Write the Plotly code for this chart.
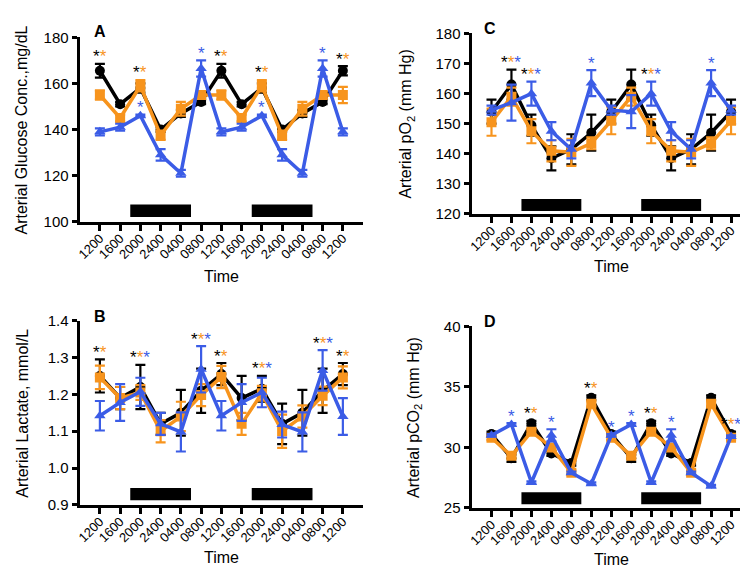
import plotly.graph_objects as go

W, H = 748, 568

time_labels = ["1200", "1600", "2000", "2400", "0400", "0800", "1200",
               "1600", "2000", "2400", "0400", "0800", "1200"]
idx = list(range(len(time_labels)))

# Panel A: glucose (mg/dL)
glu_black = [165.5, 151, 158, 140, 147, 152, 165.5, 151, 158, 140, 147, 152, 165.5]
glu_black_err = [3, 1, 2, 1, 1.5, 1, 3, 1, 2, 1, 1.5, 1, 2]
glu_orange = [155, 145, 159, 137.5, 149, 155, 155, 145, 159, 137.5, 149, 155, 155]
glu_orange_err = [2, 1.5, 2.5, 2, 3, 1.5, 2, 1.5, 2.5, 2, 3, 1.5, 3.5]
glu_blue = [139, 141, 146, 129, 121, 166.5, 139, 141, 146, 129, 121, 166.5, 139]
glu_blue_err = [1.5, 1.5, 0.5, 2.5, 1.5, 3.5, 1.5, 1.5, 0.5, 2.5, 1.5, 3.5, 1.5]

# Panel B: lactate (mmol/L)
lac_black = [1.25, 1.19, 1.22, 1.12, 1.15, 1.21, 1.255, 1.19, 1.215, 1.12, 1.15, 1.21, 1.255]
lac_black_err = [0.045, 0.03, 0.06, 0.03, 0.062, 0.06, 0.03, 0.06, 0.035, 0.055, 0.062, 0.06, 0.03]
lac_orange = [1.246, 1.19, 1.205, 1.10, 1.14, 1.198, 1.247, 1.12, 1.203, 1.10, 1.14, 1.196, 1.246]
lac_orange_err = [0.032, 0.03, 0.02, 0.03, 0.04, 0.03, 0.03, 0.03, 0.02, 0.045, 0.03, 0.025, 0.03]
lac_blue = [1.142, 1.178, 1.207, 1.12, 1.098, 1.268, 1.142, 1.178, 1.205, 1.118, 1.098, 1.265, 1.14]
lac_blue_err = [0.04, 0.05, 0.038, 0.03, 0.053, 0.063, 0.04, 0.05, 0.04, 0.035, 0.053, 0.055, 0.05]

# Panel C: pO2 (mm Hg)
po2_black = [154, 163, 149.5, 138.5, 141.5, 147, 154, 163, 149.5, 138.5, 141.5, 147, 154]
po2_black_err = [4, 5, 3.5, 4, 5, 6, 4, 5, 3.5, 4, 5, 6, 4]
po2_orange = [150.5, 159, 147.5, 141, 140.5, 143.5, 151, 159, 147.5, 141, 140.5, 143.5, 151]
po2_orange_err = [4.5, 3, 4, 3.5, 4.5, 2, 4.5, 3, 4, 3.5, 4.5, 2, 4.5]
po2_blue = [154.5, 157, 160, 147.5, 141.5, 163.5, 154.5, 154, 160, 147.5, 141.5, 163.5, 154.5]
po2_blue_err = [1.5, 6, 4, 3, 3, 4.3, 1.5, 5.5, 4, 3, 3, 4.3, 1.5]

# Panel D: pCO2 (mm Hg)
pco2_black = [31.1, 29.1, 32.0, 29.5, 28.7, 34.1, 31.1, 29.1, 32.0, 29.5, 28.7, 34.1, 31.1]
pco2_black_err = [0.2, 0.3, 0.2, 0.2, 0.2, 0.2, 0.2, 0.3, 0.2, 0.2, 0.2, 0.2, 0.2]
pco2_orange = [30.8, 29.3, 31.3, 30.0, 27.9, 33.6, 30.8, 29.3, 31.3, 30.0, 27.9, 33.6, 30.8]
pco2_orange_err = [0.2] * 13
pco2_blue = [31.0, 31.9, 27.1, 31.0, 27.9, 27.0, 31.0, 31.9, 27.1, 31.0, 27.9, 26.8, 30.9]
pco2_blue_err = [0.1, 0.1, 0.1, 0.5, 0.1, 0.1, 0.1, 0.1, 0.1, 0.5, 0.1, 0.1, 0.1]

# significance asterisks: (index, series list)
glu_stars = [(0, "ko"), (2, "ko"), (2, "b"), (5, "b"), (6, "ko"), (8, "ko"), (8, "b"), (11, "b"), (12, "ko")]
lac_stars = [(0, "ko"), (2, "kob"), (5, "kob"), (6, "ko"), (8, "kob"), (11, "kob"), (12, "ko")]
po2_stars = [(1, "kob"), (2, "kob"), (5, "b"), (8, "kob"), (11, "b")]
pco2_stars = [(1, "b"), (2, "ko"), (3, "b"), (5, "ko"), (6, "b"), (7, "b"), (8, "ko"), (9, "b"), (12, "kob")]

BLACK = "#000000"
ORANGE = "#F7941D"
BLUE = "#3B5CE6"
COLORS = {"k": BLACK, "o": ORANGE, "b": BLUE}
FONT = "Arial, Liberation Sans, sans-serif"

def px_x(p):
    return p / W

def px_y(p):
    return 1 - p / H

panels = [
    dict(letter="A", ax="", xdom=(68, 353), ydom=(21, 211), yr=(100, 180), dt=20,
         ytitle="Arterial Glucose Conc.,mg/dL", ytx=10, timey=267, lx=88, ly=15,
         series=[(glu_black, glu_black_err), (glu_orange, glu_orange_err), (glu_blue, glu_blue_err)],
         stars=glu_stars, bar=(102, 107.5), fmt=None),
    dict(letter="C", ax="2", xdom=(462, 743), ydom=(17, 203), yr=(120, 180), dt=10,
         ytitle="Arterial pO<sub>2</sub> (mm Hg)", ytx=397, timey=257, lx=481, ly=12,
         series=[(po2_black, po2_black_err), (po2_orange, po2_orange_err), (po2_blue, po2_blue_err)],
         stars=po2_stars, bar=(121, 125), fmt=None),
    dict(letter="B", ax="3", xdom=(68, 353), ydom=(313, 503), yr=(0.9, 1.4), dt=0.1,
         ytitle="Arterial Lactate, mmol/L", ytx=11, timey=557, lx=88, ly=309,
         series=[(lac_black, lac_black_err), (lac_orange, lac_orange_err), (lac_blue, lac_blue_err)],
         stars=lac_stars, bar=(0.913, 0.946), fmt=".1f"),
    dict(letter="D", ax="4", xdom=(462, 743), ydom=(319, 506), yr=(25, 40), dt=5,
         ytitle="Arterial pCO<sub>2</sub> (mm Hg)", ytx=404, timey=559, lx=481, ly=314,
         series=[(pco2_black, pco2_black_err), (pco2_orange, pco2_orange_err), (pco2_blue, pco2_blue_err)],
         stars=pco2_stars, bar=(25.3, 26.3), fmt=None),
]

night_periods = [(1.5, 4.5), (7.5, 10.5)]
markers = ["circle", "square", "triangle-up"]
cols = [BLACK, ORANGE, BLUE]

fig = go.Figure()
layout = dict(width=W, height=H, margin=dict(l=0, r=0, t=0, b=0),
              paper_bgcolor="white", plot_bgcolor="white", showlegend=False,
              font=dict(family=FONT, color="black"))
annotations = []
shapes = []

for p in panels:
    ax = p["ax"]
    xa, ya = "x" + ax, "y" + ax
    for (vals, errs), m, c in zip(p["series"], markers, cols):
        fig.add_trace(go.Scatter(
            x=idx, y=vals, xaxis=xa, yaxis=ya, mode="lines+markers",
            line=dict(color=c, width=3.5),
            marker=dict(symbol=m, size=10, color=c),
            error_y=dict(type="data", array=errs, visible=True, color=c, thickness=2.2, width=5),
            hoverinfo="skip"))
    layout["xaxis" + ax] = dict(
        domain=[px_x(p["xdom"][0]), px_x(p["xdom"][1])], anchor=ya, range=[-1, 13],
        tickmode="array", tickvals=idx, ticktext=time_labels, tickangle=-45,
        ticks="outside", ticklen=6, tickwidth=2.5, tickcolor="black",
        ticklabelstandoff=-5,
        showline=True, linewidth=3, linecolor="black", showgrid=False, zeroline=False,
        tickfont=dict(size=13, family=FONT, color="black"), fixedrange=True)
    ya_d = dict(
        domain=[px_y(p["ydom"][1]), px_y(p["ydom"][0])], anchor=xa, range=list(p["yr"]),
        tick0=p["yr"][0], dtick=p["dt"],
        ticks="outside", ticklen=5, tickwidth=2.5, tickcolor="black",
        showline=True, linewidth=3, linecolor="black", showgrid=False, zeroline=False,
        tickfont=dict(size=15, family=FONT, color="black"), fixedrange=True)
    if p["fmt"]:
        ya_d["tickformat"] = p["fmt"]
    layout["yaxis" + ax] = ya_d

    for x0, x1 in night_periods:
        shapes.append(dict(type="rect", xref=xa, yref=ya, x0=x0, x1=x1,
                           y0=p["bar"][0], y1=p["bar"][1],
                           fillcolor="black", line=dict(width=0), layer="above"))

    # axis titles and panel letter
    annotations.append(dict(text=p["ytitle"], xref="paper", yref="paper",
                            x=px_x(p["ytx"]), y=px_y((p["ydom"][0] + p["ydom"][1]) / 2),
                            textangle=-90, showarrow=False, xanchor="center", yanchor="middle",
                            font=dict(size=16, family=FONT, color="black")))
    annotations.append(dict(text="Time", xref="paper", yref="paper",
                            x=px_x((p["xdom"][0] + p["xdom"][1]) / 2), y=px_y(p["timey"]),
                            showarrow=False, xanchor="center", yanchor="middle",
                            font=dict(size=16, family=FONT, color="black")))
    annotations.append(dict(text="<b>%s</b>" % p["letter"], xref="paper", yref="paper",
                            x=px_x(p["lx"]), y=px_y(p["ly"]),
                            showarrow=False, xanchor="center", yanchor="middle",
                            font=dict(size=16, family=FONT, color="black")))

    # asterisks
    key = {"k": 0, "o": 1, "b": 2}
    for i, grp in p["stars"]:
        top = max(p["series"][key[s]][0][i] + p["series"][key[s]][1][i] for s in grp)
        txt = "".join("<span style='color:%s'>*</span>" % COLORS[s] for s in grp)
        annotations.append(dict(text=txt, xref=xa, yref=ya, x=i, y=top,
                                showarrow=False, xanchor="center", yanchor="middle",
                                yshift=7, font=dict(size=17, family=FONT)))

layout["annotations"] = annotations
layout["shapes"] = shapes
fig.update_layout(**layout)
fig.write_html("out.html")
